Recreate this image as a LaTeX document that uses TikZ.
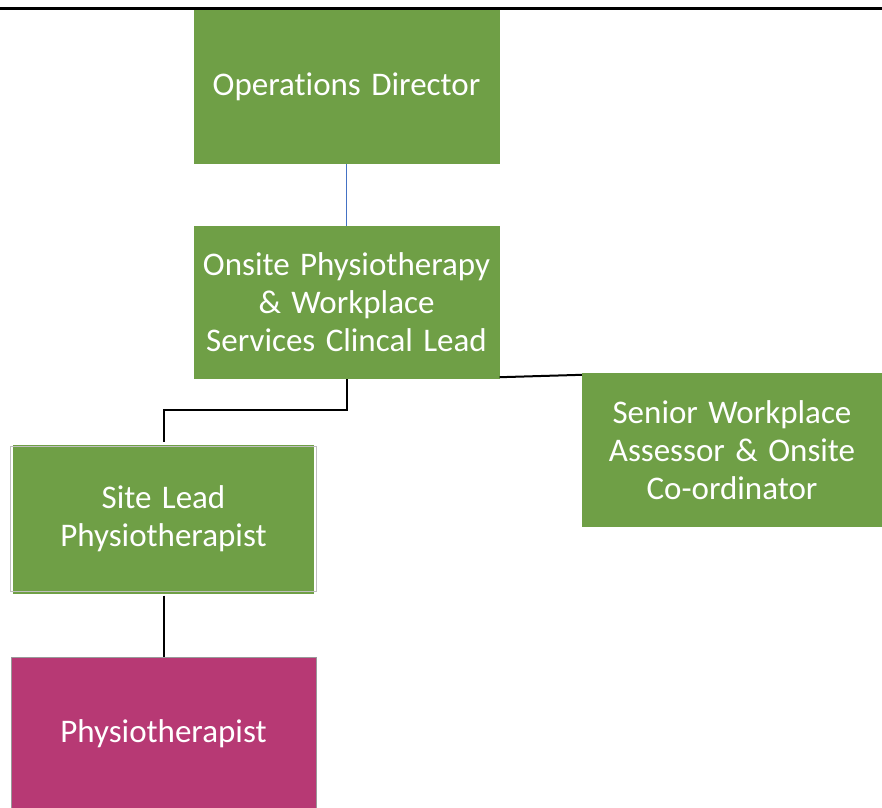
\documentclass[tikz,border=0pt]{standalone}
\usepackage{fontspec}
\setmainfont{Carlito}[RawFeature=-liga, WordSpace=1.4]
\definecolor{boxgreen}{RGB}{111,159,70}
\definecolor{boxmag}{RGB}{183,57,116}
\definecolor{linkblue}{RGB}{68,114,196}
\tikzset{
  orgbox/.style={rectangle, fill=boxgreen, text=white, align=center, inner sep=0pt,
    font=\fontsize{33}{38}\selectfont, minimum width=306pt, minimum height=154pt},
  link/.style={draw=black, line width=2pt},
}
\begin{document}
\begin{tikzpicture}[x=1pt,y=-1pt]
\useasboundingbox (0,0) rectangle (882,807);
\clip (0,0) rectangle (882,807);
\fill[white] (0,0) rectangle (882,807);
\draw[line width=2.5pt] (0,8.5) -- (882,8.5);
\node[orgbox] (od) at (346.5,87) {Operations Director};
\node[orgbox, minimum height=153pt] (ol) at (346.5,302.5) {Onsite Physiotherapy\\ \& Workplace\\ Services Clincal Lead};
\node[orgbox, minimum width=301pt, minimum height=149pt] (sl) at (163.5,519) {Site Lead\\ Physiotherapist};
\draw[black!25, line width=1pt] ([shift={(-2,-2)}]sl.south west) rectangle ([shift={(2,2)}]sl.north east);
\node[orgbox, minimum width=300pt] (sr) at (732,450) {Senior Workplace\\ Assessor \& Onsite\\ Co-ordinator};
\node[orgbox, fill=boxmag, draw=black!40, line width=0.8pt, minimum width=305pt, minimum height=154pt] (ph) at (163.5,734) {Physiotherapist};
\draw[linkblue, line width=1.5pt] (od.south) -- (ol.north);
\draw[link] (ol.south) -- ++(0,31) -| ([yshift=2pt]sl.north);
\draw[link] ([yshift=2pt]ol.south east) -- ([yshift=-2pt]sr.north west);
\draw[link] ([yshift=-2pt]sl.south) -- (ph.north);
\end{tikzpicture}
\end{document}
